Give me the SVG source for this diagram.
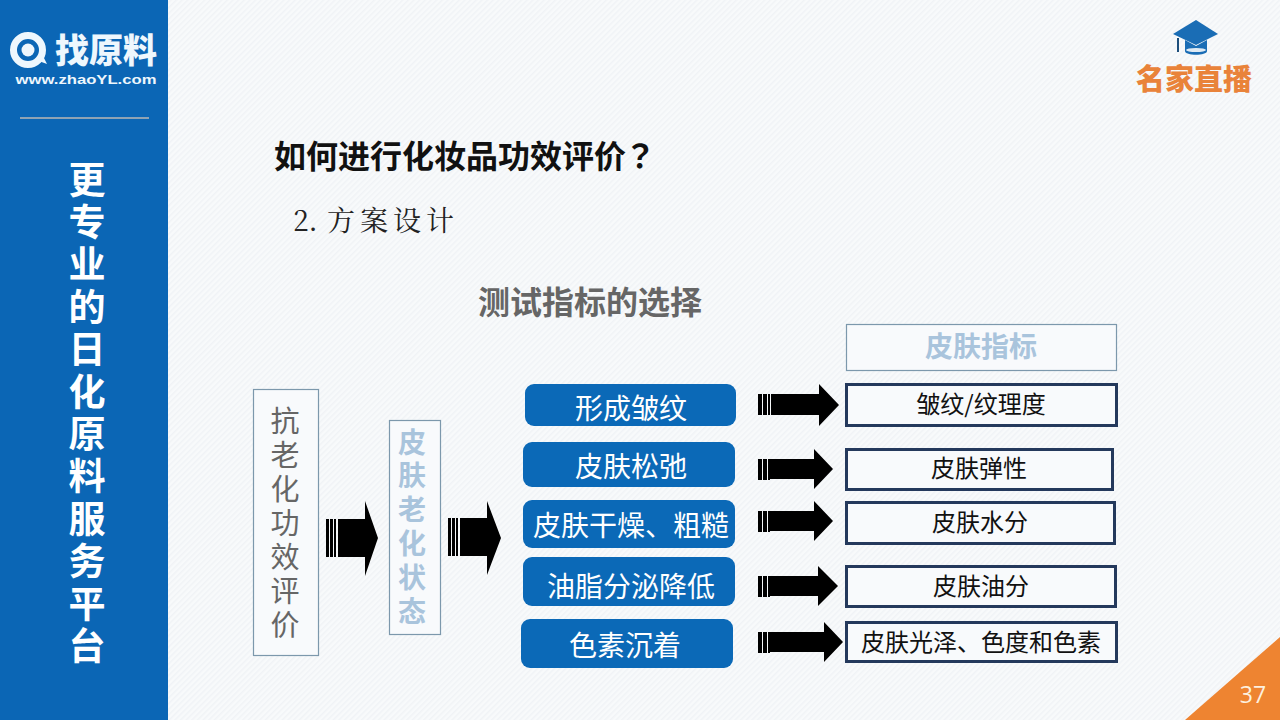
<svg xmlns="http://www.w3.org/2000/svg" width="1280" height="720" viewBox="0 0 1280 720">
<style>
text{font-family:"Noto Sans CJK SC","Liberation Sans",sans-serif}
.mid{text-anchor:middle}
.vert{writing-mode:vertical-rl;text-orientation:upright}
.pill{fill:#0b69b7}
.pt{fill:#fff;font-size:28px;text-anchor:middle}
.box{fill:#f8fafc;stroke:#24395c;stroke-width:3}
.bt{fill:#111;font-size:24px;text-anchor:middle}
.thin{fill:#f8fafc;stroke:#7c98ac;stroke-width:1.2}
.side{fill:#fff;font-size:37px;font-weight:700;letter-spacing:5.4px}
.gv{fill:#666;font-size:29px;letter-spacing:5px}
.bv{fill:#a9c4dc;font-size:28px;font-weight:700;letter-spacing:5.8px}
</style>
<defs>
<pattern id="hatch" width="4" height="4" patternUnits="userSpaceOnUse" patternTransform="rotate(45)"><rect width="4" height="4" fill="#f8fafb"/><rect width="1.5" height="4" fill="#f0f3f6"/></pattern>
</defs>
<rect width="1280" height="720" fill="url(#hatch)"/>
<g id="sidebar">
<rect width="168" height="720" fill="#0b66b5"/>
<circle cx="28" cy="50" r="14.500" fill="none" stroke="#eef7fd" stroke-width="7"/>
<circle cx="28" cy="50" r="6.500" fill="#eef7fd"/>
<path d="M36 60l11 4-5-10z" fill="#eef7fd"/>
<text x="106" y="62.500" class="mid" fill="#eef7fd" font-size="34" font-weight="900">找原料</text>
<text x="86" y="84" class="mid" fill="#eef7fd" font-size="13" font-weight="700" style="font-family:'Liberation Sans',sans-serif" textLength="141" lengthAdjust="spacingAndGlyphs">www.zhaoYL.com</text>
<rect x="20" y="117" width="129" height="2" fill="#8fa3b4"/>
<text x="87" y="161" class="side vert">更专业的日化原料服务平台</text>
</g>
<g id="badge">
<path d="M1196 20l22 14-22 11-23-11z" fill="#1a6db5"/>
<path d="M1185 40v11c0 5 22 5 22 0v-11l-11 6z" fill="#1a6db5"/>
<ellipse cx="1196" cy="50" rx="10" ry="2" fill="#dfeaf3"/>
<rect x="1177" y="38" width="2" height="14" fill="#1d4f7c"/>
<text x="1194" y="90" class="mid" fill="#e9833a" font-size="29" font-weight="900">名家直播</text>
</g>
<g id="title">
<text x="274" y="168" fill="#111" font-size="32" font-weight="700">如何进行化妆品功效评价<tspan dx="-2" font-family="'Noto Sans CJK JP'">？</tspan></text>
<text x="293" y="231" fill="#222" font-size="28" style="font-family:'Noto Serif CJK SC','Noto Sans CJK SC',serif">2.<tspan x="327" letter-spacing="5">方案设计</tspan></text>
<text x="590" y="314" class="mid" fill="#666" font-size="32" font-weight="700">测试指标的选择</text>
</g>
<g id="n-eval">
<rect x="253.500" y="389.500" width="65" height="266" class="thin"/>
<text x="285" y="406" class="gv vert">抗老化功效评价</text>
</g>
<g id="n-state">
<rect x="389.500" y="420.500" width="51" height="214" class="thin"/>
<text x="412" y="428" class="bv vert">皮肤老化状态</text>
</g>
<g id="p1"><rect x="525" y="384" width="211" height="42" rx="9" class="pill"/><text x="631" y="419" class="pt">形成皱纹</text></g>
<g id="p2"><rect x="523" y="442" width="212" height="45" rx="9" class="pill"/><text x="631" y="477" class="pt">皮肤松弛</text></g>
<g id="p3"><rect x="523" y="500" width="212" height="48" rx="9" class="pill"/><text x="631" y="536" class="pt">皮肤干燥、粗糙</text></g>
<g id="p4"><rect x="523" y="557" width="212" height="49" rx="9" class="pill"/><text x="631" y="597" class="pt">油脂分泌降低</text></g>
<g id="p5"><rect x="521" y="619" width="212" height="49" rx="9" class="pill"/><text x="625" y="656" class="pt">色素沉着</text></g>
<g id="head"><rect x="846.500" y="324.500" width="270" height="46" class="thin"/><text x="981" y="357" class="mid" fill="#a9c4dc" font-size="28" font-weight="700">皮肤指标</text></g>
<g id="b1"><rect x="846.500" y="384.500" width="270" height="41" class="box"/><text x="981" y="413" class="bt">皱纹/纹理度</text></g>
<g id="b2"><rect x="846.500" y="449.500" width="266" height="40" class="box"/><text x="979" y="477" class="bt">皮肤弹性</text></g>
<g id="b3"><rect x="846.500" y="502.500" width="268" height="41" class="box"/><text x="980" y="531" class="bt">皮肤水分</text></g>
<g id="b4"><rect x="846.500" y="566.500" width="269" height="40" class="box"/><text x="981" y="595" class="bt">皮肤油分</text></g>
<g id="b5"><rect x="846.500" y="622.500" width="270" height="39" class="box"/><text x="981" y="651" class="bt">皮肤光泽、色度和色素</text></g>
<g id="connectors" fill="#000">
<g><rect x="326" y="519" width="3" height="38"/><rect x="330" y="519" width="3" height="38"/><rect x="334" y="519" width="2" height="38"/><path d="M338 519h27v-18l13 37-13 38v-19h-27z"/></g>
<g><rect x="448" y="518" width="3" height="38"/><rect x="452" y="518" width="3" height="38"/><rect x="456" y="518" width="2" height="38"/><path d="M460 518h27v-17l14 37-14 37v-19h-27z"/></g>
<g><rect x="758" y="394" width="4" height="21"/><rect x="763" y="394" width="4" height="21"/><rect x="768" y="394" width="2" height="21"/><path d="M771 394h48v-10l20 21-20 21v-11h-48z"/></g>
<g><rect x="758" y="459" width="4" height="21"/><rect x="763" y="459" width="4" height="21"/><rect x="768" y="459" width="2" height="21"/><path d="M770 459h44v-10l19 20-19 20v-10h-44z"/></g>
<g><rect x="758" y="511" width="4" height="21"/><rect x="763" y="511" width="4" height="21"/><rect x="768" y="511" width="2" height="21"/><path d="M770 511h44v-10l19 20-19 20v-10h-44z"/></g>
<g><rect x="758" y="576" width="4" height="21"/><rect x="763" y="576" width="4" height="21"/><rect x="768" y="576" width="2" height="21"/><path d="M770 576h48v-10l20 20-20 20v-10h-48z"/></g>
<g><rect x="758" y="632" width="4" height="21"/><rect x="763" y="632" width="4" height="21"/><rect x="768" y="632" width="2" height="21"/><path d="M770 632h54v-10l19 20-19 20v-10h-54z"/></g>
</g>
<g id="page">
<path d="M1280 637v83h-95z" fill="#ee8431"/>
<text x="1253" y="703" class="mid" fill="#fdf0df" font-size="23" style="font-family:'Open Sans',sans-serif">37</text>
</g>
</svg>
